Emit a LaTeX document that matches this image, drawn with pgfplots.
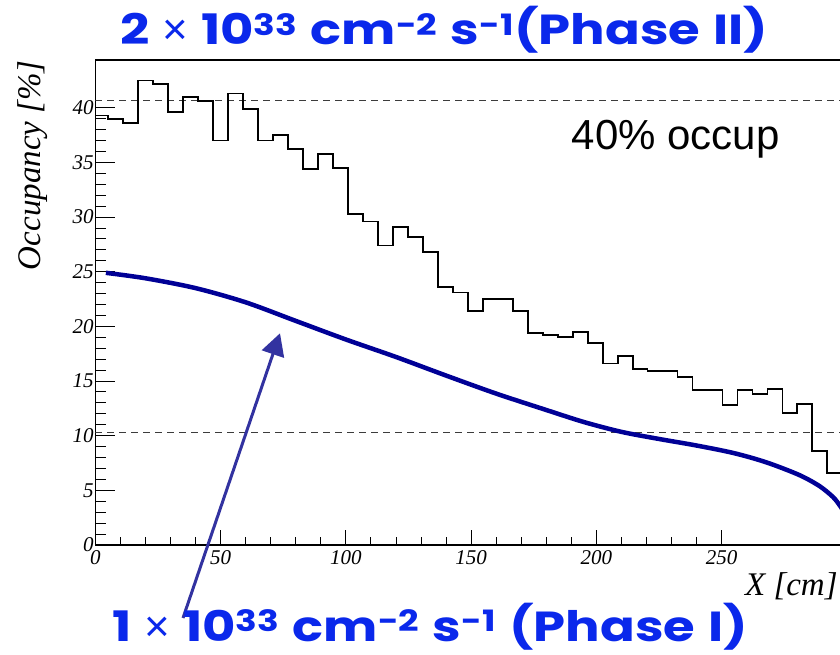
\documentclass[border=0pt]{standalone}
\usepackage{fontspec}
\setmainfont{Liberation Serif}
\newfontfamily\arialfont{Liberation Sans}
\newfontfamily\comic{Poppins}[FakeStretch=1.22, WordSpace=1.2]
\usepackage{pgfplots}
\pgfplotsset{compat=1.18}
\usetikzlibrary{arrows.meta}
\definecolor{curveblue}{RGB}{0,0,150}
\definecolor{arrowblue}{RGB}{50,50,160}
\definecolor{titleblue}{RGB}{10,40,235}
\definecolor{dashgray}{RGB}{60,60,60}
\newcommand{\tms}{{\arialfont\mdseries\fontsize{44}{44}\selectfont ×}}
\begin{document}
\begin{tikzpicture}
\useasboundingbox (-95.4pt,-110pt) rectangle (744.6pt,545pt);
\begin{axis}[
  at={(0pt,0pt)}, anchor=south west,
  scale only axis, width=751.5pt, height=485pt,
  xmin=0, xmax=300, ymin=0, ymax=44.37,
  xtick={0,50,...,250}, ytick={0,5,...,40},
  minor x tick num=4, minor y tick num=4,
  tick align=inside, xtick pos=left, ytick pos=left,
  major tick length=20pt, minor tick length=10.5pt,
  xtick style={/pgfplots/major tick length=15pt,/pgfplots/minor tick length=7.7pt},
  tick style={black, line width=1pt},
  axis line style={black, line width=1.6pt},
  /pgf/number format/assume math mode=true,
  ticklabel style={font=\fontsize{21}{21}\selectfont\itshape},
  xticklabel style={yshift=-2pt},
  yticklabel style={inner xsep=1.5pt},
  xlabel={X [cm]}, ylabel={Occupancy [\%]},
  label style={font=\fontsize{33}{33}\selectfont\itshape, inner sep=0pt},
  xlabel style={at={(axis description cs:0.988,-0.057)}, anchor=north east},
  ylabel style={at={(axis description cs:-0.083,1)}, anchor=east},
]
\addplot[dashgray, dash pattern=on 7pt off 5pt, line width=1pt] coordinates {(0,40.7) (300,40.7)};
\addplot[dashgray, dash pattern=on 7pt off 5pt, line width=1pt] coordinates {(0,10.3) (300,10.3)};
\addplot[const plot, black, line width=1.8pt] coordinates {
(0,39.3) (5.15,39.0) (11.13,38.6) (17.11,42.5) (23.09,42.2) (29.07,39.6) (35.05,41.0) (41.03,40.6) (47.01,37.0) (52.99,41.3) (58.97,39.9) (64.95,37.0) (70.93,37.5) (76.91,36.2) (82.89,34.4) (88.87,35.8) (94.85,34.5) (100.83,30.3) (106.81,29.6) (112.79,27.4) (118.77,29.1) (124.75,28.2) (130.73,26.8) (136.71,23.6) (142.69,23.1) (148.67,21.4) (154.65,22.5) (160.63,22.5) (166.61,21.4) (172.59,19.4) (178.57,19.2) (184.55,19.0) (190.53,19.5) (196.51,18.5) (202.49,16.6) (208.47,17.3) (214.45,16.1) (220.43,15.95) (226.41,15.95) (232.39,15.4) (238.37,14.2) (244.35,14.2) (250.33,12.8) (256.31,14.2) (262.29,13.8) (268.27,14.25) (274.25,12.1) (280.23,12.9) (286.21,8.6) (292.19,6.6) (300,6.6)};
\addplot[curveblue, line width=4.5pt, smooth] coordinates {
(4.2,24.9) (20,24.4) (40,23.5) (60,22.2) (80,20.5) (100,18.8) (120,17.2) (140,15.5) (160,13.85) (180,12.35) (195,11.25) (210,10.35) (225,9.7) (240,9.1) (255,8.4) (268,7.55) (281,6.4) (289,5.4) (294.4,4.4) (297.2,3.6) (300,2.6)};
\node[anchor=base west, font=\arialfont\fontsize{42}{42}\selectfont, inner sep=0pt] at (axis cs:190.1,36.14) {40\% occup};
\end{axis}
\draw[arrowblue, line width=3pt, -{Triangle[length=22pt,width=23pt]}] (87.6pt,-73pt) -- (184.6pt,211.7pt);
\node[anchor=base west, text=titleblue, font=\comic\bfseries\fontsize{42}{42}\selectfont, inner sep=0pt] at (24.6pt,500pt) {2 \tms{} 10\textsuperscript{33} cm\textsuperscript{-2} s\textsuperscript{-1}(Phase II)};
\node[anchor=base west, text=titleblue, font=\comic\bfseries\fontsize{42}{42}\selectfont, inner sep=0pt] at (16.6pt,-96pt) {1 \tms{} 10\textsuperscript{33} cm\textsuperscript{-2} s\textsuperscript{-1} (Phase I)};
\end{tikzpicture}
\end{document}
